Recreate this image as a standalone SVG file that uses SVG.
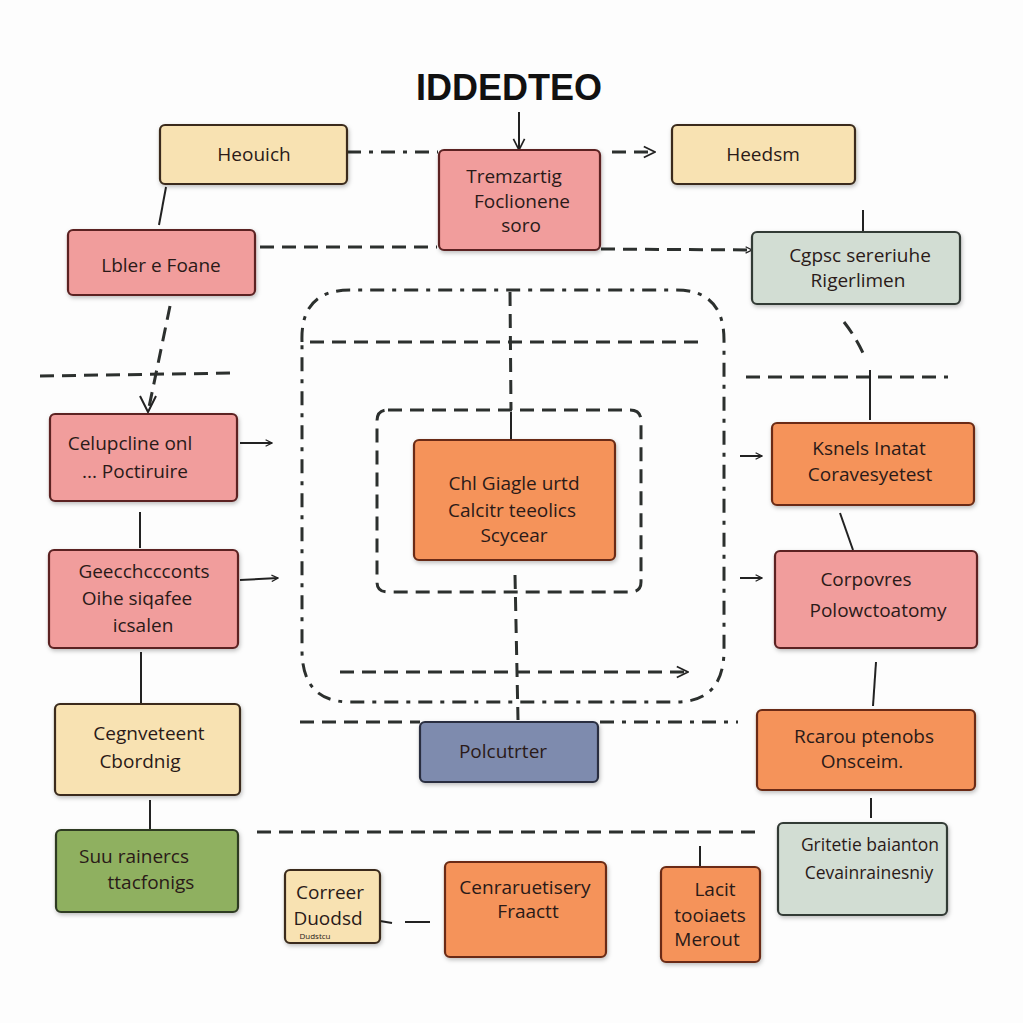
<svg xmlns="http://www.w3.org/2000/svg" width="1023" height="1023" viewBox="0 0 1023 1023">
<defs>
<filter id="sh" x="-10%" y="-10%" width="125%" height="130%"><feDropShadow dx="1" dy="2" stdDeviation="2" flood-color="#000" flood-opacity="0.25"/></filter>
<marker id="ar" viewBox="0 0 10 10" refX="9" refY="5" markerWidth="8" markerHeight="8" orient="auto" markerUnits="userSpaceOnUse"><path d="M1,1 L9,5 L1,9" fill="none" stroke="#222" stroke-width="1.6"/></marker>
<marker id="arL" viewBox="0 0 10 10" refX="9" refY="5" markerWidth="14" markerHeight="14" orient="auto" markerUnits="userSpaceOnUse"><path d="M1,1 L9,5 L1,9" fill="none" stroke="#222" stroke-width="1.2"/></marker>
</defs>
<style>
.bx{stroke-width:2.2;filter:url(#sh)}
.be{fill:#f8e2b2;stroke:#3b2c1c}
.pk{fill:#f19d9c;stroke:#5b2222}
.or{fill:#f5935a;stroke:#6b2c14}
.gg{fill:#d2ddd3;stroke:#333a36}
.gr{fill:#8fb061;stroke:#2f3a22}
.sl{fill:#7e8bae;stroke:#2a2f40}
text{font-family:"Open Sans","Liberation Sans",sans-serif;font-size:19px;fill:#2a1a18;text-anchor:middle}
.sm{font-size:17.5px}
.ttl{font-family:"Liberation Sans",Arial,sans-serif;font-weight:bold;font-size:36px;fill:#111}
.ln{fill:none;stroke:#222;stroke-width:2}
.ds{fill:none;stroke:#2c302e;stroke-width:3;stroke-dasharray:14 8}
.dd{fill:none;stroke:#2c302e;stroke-width:3;stroke-dasharray:14 8 4 8}
</style>
<rect width="1023" height="1023" fill="#fdfdfd"/>
<text class="ttl" x="509" y="100">IDDEDTEO</text>

<g id="connectors">
<path class="dd" d="M302,342 Q300,290 350,290 L676,290 Q724,290 724,340 L724,650 Q724,702 676,702 L350,702 Q302,702 302,650 Z"/>
<path class="ds" d="M388,410 L630,410 Q641,410 641,421 L641,582 Q641,592 630,592 L388,592 Q377,592 377,582 L377,421 Q377,410 388,410 Z"/>
<path class="ds" d="M310,342 L703,342"/>
<path class="ds" d="M510,292 L511,410"/>
<path class="ln" d="M511,412 L511,440"/>
<path class="ds" d="M515,575 L518,720"/>
<path class="ds" d="M340,672 L688,672" marker-end="url(#arL)"/>
<path class="ln" d="M519,112 L519,150" marker-end="url(#arL)"/>
<path class="dd" d="M347,152 L438,152"/>
<path class="ds" d="M612,152 L655,152" marker-end="url(#arL)"/>
<path class="ln" d="M166,187 L159,225"/>
<path class="ds" d="M260,247 L437,247"/>
<path class="ds" d="M601,249 L752,250" marker-end="url(#ar)"/>
<path class="ln" d="M863,210 L863,232"/>
<path class="ds" d="M170,306 L148,412"/>
<path class="ln" d="M140,396 L148,412 L156,396"/>
<path class="ds" d="M40,376 L238,373"/>
<path class="ds" d="M746,377 L948,377"/>
<path class="ds" d="M844,322 Q858,340 866,360"/>
<path class="ln" d="M870,370 L870,420"/>
<path class="ln" d="M240,443 L272,443" marker-end="url(#ar)"/>
<path class="ln" d="M240,580 L278,578" marker-end="url(#ar)"/>
<path class="ln" d="M140,512 L140,548"/>
<path class="ln" d="M141,652 L141,704"/>
<path class="ln" d="M150,800 L150,830"/>
<path class="ln" d="M740,456 L762,456" marker-end="url(#ar)"/>
<path class="ln" d="M740,578 L762,578" marker-end="url(#ar)"/>
<path class="ln" d="M840,513 L853,550"/>
<path class="ln" d="M876,662 L873,706"/>
<path class="ln" d="M871,798 L871,818"/>
<path class="ds" d="M300,722 L420,722"/>
<path class="dd" d="M600,722 L738,722"/>
<path class="ds" d="M257,832 L757,832"/>
<path class="ln" d="M380,921 L392,923"/>
<path class="ln" d="M405,922 L430,922"/>
<path class="ln" d="M700,846 L700,867"/>
</g>

<g id="n1"><rect class="bx be" x="160" y="125" width="187" height="59" rx="5"/><text x="254" y="161">Heouich</text></g>
<g id="n2"><rect class="bx pk" x="439" y="150" width="161" height="100" rx="5"/><text x="514" y="183">Tremzartig</text><text x="522" y="208">Foclionene</text><text x="521" y="232">soro</text></g>
<g id="n3"><rect class="bx be" x="672" y="125" width="183" height="59" rx="5"/><text x="763" y="161">Heedsm</text></g>
<g id="n4"><rect class="bx pk" x="68" y="230" width="187" height="65" rx="5"/><text x="161" y="272">Lbler e Foane</text></g>
<g id="n5"><rect class="bx gg" x="752" y="232" width="208" height="72" rx="5"/><text x="860" y="262">Cgpsc sereriuhe</text><text x="858" y="287">Rigerlimen</text></g>
<g id="n6"><rect class="bx pk" x="50" y="414" width="187" height="87" rx="5"/><text x="130" y="450">Celupcline onl</text><text x="135" y="478">... Poctiruire</text></g>
<g id="n7"><rect class="bx pk" x="49" y="550" width="189" height="98" rx="5"/><text x="144" y="578">Geecchccconts</text><text x="137" y="605">Oihe siqafee</text><text x="143" y="632">icsalen</text></g>
<g id="n8"><rect class="bx be" x="55" y="704" width="185" height="91" rx="5"/><text x="149" y="740">Cegnveteent</text><text x="140" y="768">Cbordnig</text></g>
<g id="n9"><rect class="bx gr" x="56" y="830" width="182" height="82" rx="5"/><text x="134" y="863">Suu rainercs</text><text x="151" y="889">ttacfonigs</text></g>
<g id="n10"><rect class="bx be" x="285" y="870" width="95" height="73" rx="5"/><text x="330" y="899">Correer</text><text x="328" y="925">Duodsd</text><text x="315" y="939" style="font-size:8px">Dudstcu</text></g>
<g id="n11"><rect class="bx or" x="445" y="862" width="161" height="95" rx="5"/><text x="525" y="894">Cenraruetisery</text><text x="528" y="918">Fraactt</text></g>
<g id="n12"><rect class="bx or" x="661" y="867" width="99" height="95" rx="5"/><text x="715" y="896">Lacit</text><text x="710" y="922">tooiaets</text><text x="707" y="946">Merout</text></g>
<g id="n13"><rect class="bx gg" x="778" y="823" width="169" height="92" rx="5"/><text class="sm" x="870" y="851">Gritetie baianton</text><text class="sm" x="869" y="879">Cevainrainesniy</text></g>
<g id="n14"><rect class="bx or" x="757" y="710" width="218" height="80" rx="5"/><text x="864" y="743">Rcarou ptenobs</text><text x="862" y="768">Onsceim.</text></g>
<g id="n15"><rect class="bx pk" x="775" y="551" width="202" height="97" rx="5"/><text x="866" y="586">Corpovres</text><text x="878" y="617">Polowctoatomy</text></g>
<g id="n16"><rect class="bx or" x="772" y="423" width="202" height="82" rx="5"/><text x="869" y="455">Ksnels Inatat</text><text x="870" y="481">Coravesyetest</text></g>
<g id="n17"><rect class="bx or" x="414" y="440" width="201" height="120" rx="5"/><text x="514" y="490">Chl Giagle urtd</text><text x="512" y="517">Calcitr teeolics</text><text x="514" y="542">Scycear</text></g>
<g id="n18"><rect class="bx sl" x="420" y="722" width="178" height="60" rx="5"/><text x="503" y="758">Polcutrter</text></g>
</svg>
